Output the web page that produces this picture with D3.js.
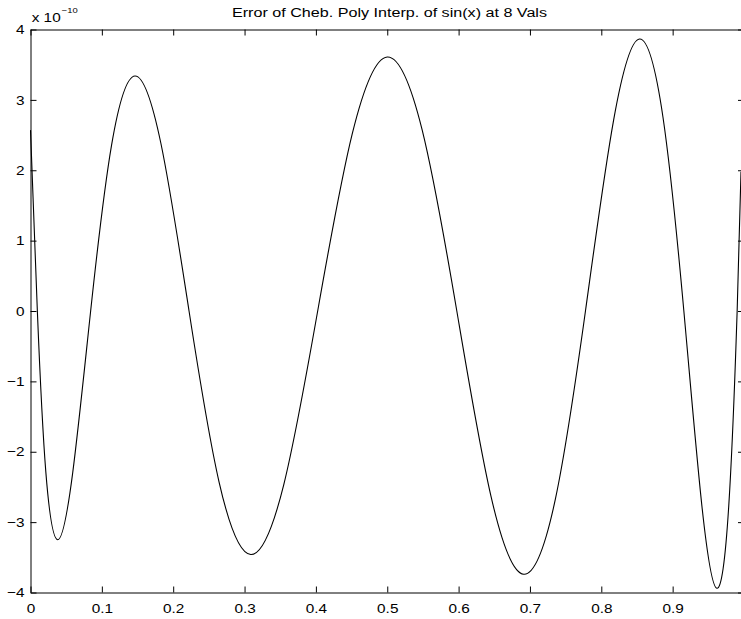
<!DOCTYPE html>
<html>
<head>
<meta charset="utf-8">
<script src="https://cdn.jsdelivr.net/npm/d3@7"></script>
<style>
  html, body { margin: 0; padding: 0; background: #fff; }
  svg { display: block; }
  text { font-family: "Liberation Sans", Arial, Helvetica, sans-serif; fill: #000; }
</style>
</head>
<body>
<svg id="chart" width="741" height="619"></svg>
<script>
// Sample positions in [0, 1] and the interpolation error there, in units of 1e-10
const xVals = [
  0, 0.0096, 0.0215, 0.0381, 0.0590, 0.0843, 0.1135, 0.1464, 0.1828, 0.2222,
  0.2643, 0.3087, 0.3549, 0.4025, 0.4510, 0.5000, 0.5490, 0.5975, 0.6451, 0.6913,
  0.7357, 0.7778, 0.8172, 0.8536, 0.8865, 0.9157, 0.9410, 0.9619, 0.9785, 0.9904,
  0.9958
];
const errVals = [
  2.57, 0, -2.29, -3.25, -2.31, 0, 2.35, 3.34, 2.38, 0,
  -2.43, -3.46, -2.47, 0, 2.52, 3.61, 2.57, 0, -2.62, -3.74,
  -2.67, 0, 2.71, 3.865, 2.75, 0, -2.77, -3.94, -2.79, 0,
  1.98
];
const xTicks = [0, 0.1, 0.2, 0.3, 0.4, 0.5, 0.6, 0.7, 0.8, 0.9];
const yTicks = [-4, -3, -2, -1, 0, 1, 2, 3, 4];
const titleText = "Error of Cheb. Poly Interp. of sin(x) at 8 Vals";
const exponentBase = "x 10";
const exponentPower = "\u221210";

const svg = d3.select("#chart");
const plotL = 30.5, plotR = 744, plotT = 29.5, plotB = 592.5;
const stretch = 1.18;   // horizontal widening of the label glyphs
const fontStack = "'Liberation Sans', Arial, Helvetica, sans-serif";

const x = d3.scaleLinear().domain([0, 1]).range([plotL, plotR]);
const y = d3.scaleLinear().domain([-4, 4]).range([plotB, plotT]);

const tickLen = 6;
const fmtX = d => d === 0 ? "0" : d3.format(".1f")(d);

// Bottom axis: ticks point inward, labels below
const gB = svg.append("g").attr("transform", `translate(0,${plotB})`)
  .call(d3.axisBottom(x).tickValues(xTicks).tickFormat(fmtX)
    .tickSizeInner(-tickLen).tickSizeOuter(0).tickPadding(11));
// Top axis: ticks only
const gT = svg.append("g").attr("transform", `translate(0,${plotT})`)
  .call(d3.axisTop(x).tickValues(xTicks).tickFormat("")
    .tickSizeInner(-tickLen).tickSizeOuter(0));
// Left axis: ticks inward, labels to the left
const gL = svg.append("g").attr("transform", `translate(${plotL},0)`)
  .call(d3.axisLeft(y).tickValues(yTicks).tickFormat(d3.format("d"))
    .tickSizeInner(-tickLen).tickSizeOuter(0).tickPadding(6));
// Right axis: ticks only
const gR = svg.append("g").attr("transform", `translate(${plotR},0)`)
  .call(d3.axisRight(y).tickValues(yTicks).tickFormat("")
    .tickSizeInner(-tickLen).tickSizeOuter(0));

[gB, gT, gL, gR].forEach(g => {
  g.selectAll("path.domain").attr("stroke", "#000").attr("stroke-width", 1);
  g.selectAll(".tick line").attr("stroke", "#000").attr("stroke-width", 1);
  g.selectAll(".tick text")
    .attr("font-family", fontStack)
    .attr("font-size", 13).attr("fill", "#000");
});
gB.selectAll(".tick text").attr("transform", `scale(${stretch},1)`);
gL.selectAll(".tick text")
  .attr("x", 0)
  .attr("transform", `translate(-6,0) scale(${stretch},1)`);

// Exponent label above the y axis
const expLabel = svg.append("text")
  .attr("transform", `translate(31.7,21.7) scale(${stretch},1)`)
  .attr("font-size", 13);
expLabel.append("tspan").text(exponentBase);
expLabel.append("tspan").attr("dy", -9).attr("dx", 1)
  .attr("font-size", 8).text(exponentPower);

// Title
svg.append("text")
  .attr("x", 232).attr("y", 17.3)
  .attr("font-size", 12)
  .attr("textLength", 315)
  .attr("lengthAdjust", "spacingAndGlyphs")
  .text(titleText);

// Error curve
const pts = xVals.map((v, i) => [v, errVals[i]]);
const line = d3.line().x(d => x(d[0])).y(d => y(d[1])).curve(d3.curveNatural);
svg.append("path")
  .datum(pts)
  .attr("d", line)
  .attr("fill", "none")
  .attr("stroke", "#000")
  .attr("stroke-width", 1.1);
</script>
</body>
</html>
